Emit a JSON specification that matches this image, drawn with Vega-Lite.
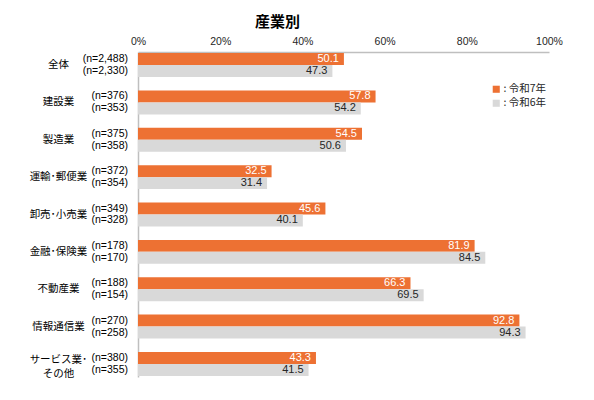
{
  "$schema": "https://vega.github.io/schema/vega-lite/v6.json",
  "width": 411,
  "height": 325,
  "autosize": "none",
  "padding": {"left": 138, "top": 52, "right": 45, "bottom": 23},
  "background": "white",
  "title": {
    "text": "産業別",
    "font": "Noto Sans CJK JP",
    "fontSize": 15,
    "fontWeight": "bold",
    "color": "#000000",
    "anchor": "middle",
    "dx": -66,
    "offset": 6
  },
  "data": {
    "values": [
      {"category": "全体", "year": "令和7年", "value": 50.1, "n": 2488},
      {"category": "全体", "year": "令和6年", "value": 47.3, "n": 2330},
      {"category": "建設業", "year": "令和7年", "value": 57.8, "n": 376},
      {"category": "建設業", "year": "令和6年", "value": 54.2, "n": 353},
      {"category": "製造業", "year": "令和7年", "value": 54.5, "n": 375},
      {"category": "製造業", "year": "令和6年", "value": 50.6, "n": 358},
      {"category": "運輸･郵便業", "year": "令和7年", "value": 32.5, "n": 372},
      {"category": "運輸･郵便業", "year": "令和6年", "value": 31.4, "n": 354},
      {"category": "卸売･小売業", "year": "令和7年", "value": 45.6, "n": 349},
      {"category": "卸売･小売業", "year": "令和6年", "value": 40.1, "n": 328},
      {"category": "金融･保険業", "year": "令和7年", "value": 81.9, "n": 178},
      {"category": "金融･保険業", "year": "令和6年", "value": 84.5, "n": 170},
      {"category": "不動産業", "year": "令和7年", "value": 66.3, "n": 188},
      {"category": "不動産業", "year": "令和6年", "value": 69.5, "n": 154},
      {"category": "情報通信業", "year": "令和7年", "value": 92.8, "n": 270},
      {"category": "情報通信業", "year": "令和6年", "value": 94.3, "n": 258},
      {"category": "サービス業･\nその他", "year": "令和7年", "value": 43.3, "n": 380},
      {"category": "サービス業･\nその他", "year": "令和6年", "value": 41.5, "n": 355}
    ]
  },
  "transform": [
    {"calculate": "'(n=' + format(datum.n, ',') + ')'", "as": "nLabel"}
  ],
  "encoding": {
    "y": {
      "field": "category",
      "type": "nominal",
      "sort": null,
      "scale": {"paddingInner": 0.36, "paddingOuter": 0.03},
      "axis": {
        "title": null,
        "ticks": false,
        "domainColor": "#BFBFBF",
        "domainWidth": 1.5,
        "labelPadding": 80,
        "labelAlign": "center",
        "labelFont": "Noto Sans CJK JP",
        "labelFontSize": 10.5,
        "labelColor": "#000000",
        "labelLineHeight": 14,
        "labelOffset": {"condition": {"test": "indexof(datum.value, '\\n') >= 0", "value": -4}, "value": 0},
        "labelExpr": "split(datum.label, '\\n')"
      }
    },
    "yOffset": {
      "field": "year",
      "type": "nominal",
      "sort": ["令和7年", "令和6年"],
      "scale": {"paddingInner": 0, "paddingOuter": 0}
    }
  },
  "layer": [
    {
      "mark": {"type": "bar"},
      "encoding": {
        "x": {
          "field": "value",
          "type": "quantitative",
          "scale": {"domain": [0, 100], "nice": false},
          "axis": {
            "orient": "top",
            "title": null,
            "values": [0, 20, 40, 60, 80, 100],
            "labelExpr": "datum.value + '%'",
            "grid": false,
            "ticks": false,
            "domainColor": "#BFBFBF",
            "domainWidth": 1.5,
            "labelFont": "Liberation Sans",
            "labelFontSize": 10.5,
            "labelColor": "#262626",
            "labelPadding": 6,
            "labelFlush": false
          }
        },
        "color": {
          "field": "year",
          "type": "nominal",
          "sort": ["令和7年", "令和6年"],
          "scale": {"domain": ["令和7年", "令和6年"], "range": ["#ED7133", "#D9D9D9"]},
          "legend": {
            "title": null,
            "orient": "none",
            "legendX": 353,
            "legendY": 32,
            "symbolType": "square",
            "symbolSize": 50,
            "symbolStrokeWidth": 0,
            "labelFont": "Noto Sans CJK JP",
            "labelFontSize": 10.5,
            "labelColor": "#262626",
            "labelOffset": 2,
            "rowPadding": 3,
            "labelExpr": "': ' + datum.label"
          }
        }
      }
    },
    {
      "mark": {"type": "text", "align": "right", "baseline": "middle", "dx": -5, "font": "Liberation Sans", "fontSize": 11},
      "encoding": {
        "x": {"field": "value", "type": "quantitative"},
        "text": {"field": "value", "type": "quantitative", "format": ".1f"},
        "color": {
          "condition": {"test": "datum.year === '令和7年'", "value": "#FFFFFF"},
          "value": "#262626"
        }
      }
    },
    {
      "mark": {"type": "text", "align": "right", "baseline": "middle", "dx": -10, "font": "Liberation Sans", "fontSize": 10.5, "color": "#000000"},
      "encoding": {
        "x": {"datum": 0, "type": "quantitative"},
        "text": {"field": "nLabel", "type": "nominal"}
      }
    }
  ],
  "config": {
    "view": {"stroke": null}
  }
}
